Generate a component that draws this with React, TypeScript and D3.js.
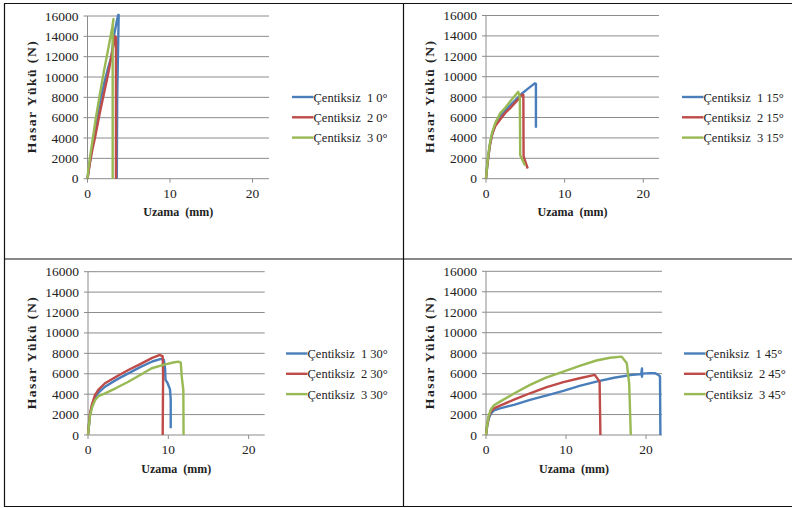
import React from 'react';
import * as d3 from 'd3';

// tick values shared by all four charts
const yTicks = [0, 2000, 4000, 6000, 8000, 10000, 12000, 14000, 16000];
const xTicks = [0, 10, 20];
const colors = ['#4a7ebb', '#be4b48', '#98b954'];

// [uzama mm, yuk N]
const deg0_1 = [[0, 0], [0.5, 2800], [1, 5300], [1.5, 7500], [2, 9300], [2.5, 10900], [2.9, 12000], [3.2, 14000], [3.5, 15300], [3.72, 16100], [3.78, 16100], [3.6, 8000], [3.55, 0]];
const deg0_2 = [[0, 0], [0.3, 1600], [0.6, 2900], [0.9, 4000], [1.5, 6500], [2, 8400], [2.5, 10300], [3, 12500], [3.35, 14000], [3.45, 13900], [3.45, 0]];
const deg0_3 = [[0, 0], [0.1, 900], [0.3, 2100], [0.6, 3700], [1, 5900], [1.5, 8300], [2, 10600], [2.5, 12700], [3, 14900], [3.15, 15700], [3.05, 15000], [3.05, 0]];

const deg15_1 = [[0, 0], [0.15, 1200], [0.3, 2200], [0.5, 3300], [0.8, 4400], [1.2, 5300], [1.8, 6100], [2.5, 6700], [3.2, 7300], [4, 7900], [4.5, 8300], [5.3, 8800], [6.2, 9350], [6.35, 9300], [6.35, 5000]];
const deg15_2 = [[0, 0], [0.15, 1200], [0.3, 2200], [0.5, 3300], [0.8, 4400], [1.2, 5200], [1.8, 5800], [2.5, 6500], [3.05, 6900], [4, 7700], [4.6, 8250], [4.75, 8200], [4.78, 2200], [5.3, 1000]];
const deg15_3 = [[0, 0], [0.15, 1300], [0.3, 2400], [0.5, 3500], [0.8, 4600], [1.2, 5500], [1.8, 6400], [2.5, 7000], [3.2, 7700], [4.1, 8520], [4.3, 8000], [4.35, 2300], [4.96, 1300]];

const deg30_1 = [[0, 0], [0.1, 800], [0.25, 2000], [0.5, 2900], [0.87, 3700], [1.3, 4150], [2.12, 4730], [3.5, 5400], [5.02, 6040], [6.5, 6650], [8, 7200], [9.09, 7450], [9.45, 7350], [9.6, 6500], [9.65, 5400], [9.9, 5100], [10.2, 4500], [10.3, 3500], [10.3, 650]];
const deg30_2 = [[0, 0], [0.1, 900], [0.25, 2100], [0.5, 3000], [0.87, 3900], [1.3, 4450], [2.12, 5070], [3.5, 5700], [5.02, 6370], [6.5, 6950], [8, 7550], [8.97, 7840], [9.3, 7700], [9.35, 6000], [9.3, 0]];
const deg30_3 = [[0, 0], [0.1, 800], [0.25, 1900], [0.5, 2700], [0.87, 3400], [1.3, 3800], [2.12, 4080], [3.5, 4600], [5.02, 5220], [6.5, 5880], [7.93, 6540], [9.5, 6900], [10.62, 7100], [11.25, 7190], [11.55, 7100], [11.67, 5720], [11.87, 4410], [11.9, 0]];

const deg45_1 = [[0, 0], [0.15, 900], [0.35, 1600], [0.6, 2100], [1, 2400], [1.75, 2610], [3.5, 2950], [5.5, 3430], [7.5, 3850], [9.67, 4310], [11.7, 4800], [13.8, 5220], [16, 5600], [18, 5850], [19.4, 5950], [19.5, 6500], [19.5, 5700], [19.55, 6000], [20.5, 6050], [21.1, 6040], [21.5, 5900], [21.75, 5720], [21.8, 0]];
const deg45_2 = [[0, 0], [0.15, 1000], [0.35, 1800], [0.6, 2300], [1, 2600], [1.75, 2870], [3.5, 3450], [5.5, 4080], [7.5, 4650], [9.67, 5160], [11.7, 5550], [13.6, 5880], [14.2, 5220], [14.3, 0]];
const deg45_3 = [[0, 0], [0.15, 1000], [0.35, 1900], [0.6, 2500], [1, 2900], [1.75, 3260], [3.5, 4050], [5.5, 4900], [7.5, 5600], [9.67, 6200], [11.7, 6750], [13.8, 7280], [15.5, 7550], [16.96, 7660], [17.6, 7010], [17.9, 5000], [18.1, 0]];

const labels0 = ['Çentiksiz  1 0°', 'Çentiksiz  2 0°', 'Çentiksiz  3 0°'];
const labels15 = ['Çentiksiz  1 15°', 'Çentiksiz  2 15°', 'Çentiksiz  3 15°'];
const labels30 = ['Çentiksiz  1 30°', 'Çentiksiz  2 30°', 'Çentiksiz  3 30°'];
const labels45 = ['Çeniksiz  1 45°', 'Çentiksiz  2 45°', 'Çentiksiz  3 45°'];

const panels = [
  { series: [deg0_1, deg0_2, deg0_3], labels: labels0, x0: 87.5, x1: 269, top: 16, bottom: 178.7, lx: 292, ly: 97, ylx: 36, xly: 216 },
  { series: [deg15_1, deg15_2, deg15_3], labels: labels15, x0: 486, x1: 659, top: 15.5, bottom: 178.7, lx: 682, ly: 97, ylx: 434, xly: 216 },
  { series: [deg30_1, deg30_2, deg30_3], labels: labels30, x0: 88, x1: 264.7, top: 271.7, bottom: 435, lx: 286, ly: 353.5, ylx: 36, xly: 472.5 },
  { series: [deg45_1, deg45_2, deg45_3], labels: labels45, x0: 486, x1: 662, top: 271.3, bottom: 435, lx: 684, ly: 353.5, ylx: 434, xly: 472.5 },
];

const font = 'Liberation Serif';

function Panel({ p }) {
  const x = d3.scaleLinear().domain([0, 22]).range([p.x0, p.x1]);
  const y = d3.scaleLinear().domain([0, 16000]).range([p.bottom, p.top]);
  const line = d3.line().x((d) => x(d[0])).y((d) => y(d[1]));
  const midY = (p.top + p.bottom) / 2;
  return (
    <g>
      {/* gridlines */}
      {yTicks.map((t) => (
        <g key={t}>
          <line x1={x(0) - 4} x2={x(22)} y1={y(t)} y2={y(t)} stroke="#8c8c8c" strokeWidth={1} />
          <text x={x(0) - 9} y={y(t) + 4.5} textAnchor="end" fontFamily={font} fontSize={13.5} fill="#222">{t}</text>
        </g>
      ))}
      <line x1={x(0)} x2={x(0)} y1={y(0)} y2={y(16000)} stroke="#8c8c8c" strokeWidth={1} />
      {xTicks.map((t) => (
        <g key={t}>
          <line x1={x(t)} x2={x(t)} y1={y(0)} y2={y(0) + 4} stroke="#8c8c8c" strokeWidth={1} />
          <text x={x(t)} y={y(0) + 19} textAnchor="middle" fontFamily={font} fontSize={13.5} fill="#222">{t}</text>
        </g>
      ))}
      {/* curves */}
      {p.series.map((s, i) => (
        <path key={i} d={line(s)} fill="none" stroke={colors[i]} strokeWidth={2.4} strokeLinejoin="round" />
      ))}
      {/* legend */}
      {p.labels.map((l, i) => (
        <g key={l}>
          <line x1={p.lx} x2={p.lx + 21.5} y1={p.ly + i * 20.3} y2={p.ly + i * 20.3} stroke={colors[i]} strokeWidth={2.4} />
          <text x={p.lx + 21.5} y={p.ly + i * 20.3 + 4.5} fontFamily={font} fontSize={12.5} fill="#222" style={{ whiteSpace: 'pre' }}>{l}</text>
        </g>
      ))}
      {/* axis titles */}
      <text x={(x(0) + x(22)) / 2} y={p.xly} textAnchor="middle" fontFamily={font} fontSize={12} fontWeight="bold" fill="#222" style={{ whiteSpace: 'pre' }}>Uzama  (mm)</text>
      <text transform={`translate(${p.ylx}, ${midY}) rotate(-90)`} textAnchor="middle" fontFamily={font} fontSize={13.5} fontWeight="bold" fill="#222" textLength={112} lengthAdjust="spacing">Hasar Yükü (N)</text>
    </g>
  );
}

export default function App() {
  return (
    <svg width={792} height={508} style={{ position: 'absolute', left: 0, top: 0, background: '#fff' }}>
      <rect x={0} y={0} width={792} height={508} fill="#fff" />
      {panels.map((p, i) => (
        <Panel key={i} p={p} />
      ))}
      {/* table borders */}
      <line x1={4} x2={792} y1={3.5} y2={3.5} stroke="#111" strokeWidth={1.2} />
      <line x1={4} x2={792} y1={259} y2={259} stroke="#111" strokeWidth={1.2} />
      <line x1={4} x2={792} y1={506.5} y2={506.5} stroke="#111" strokeWidth={1.2} />
      <line x1={4.5} x2={4.5} y1={3} y2={507} stroke="#111" strokeWidth={1.2} />
      <line x1={403.5} x2={403.5} y1={3} y2={507} stroke="#111" strokeWidth={1.2} />
    </svg>
  );
}
